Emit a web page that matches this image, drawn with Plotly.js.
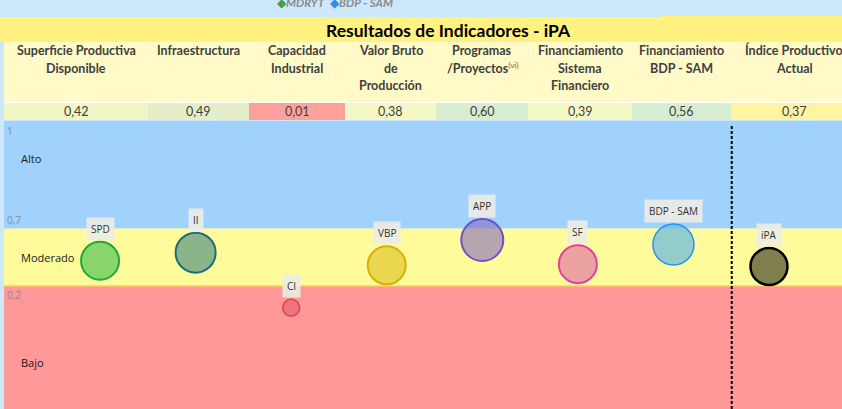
<!DOCTYPE html>
<html>
<head>
<meta charset="utf-8">
<script src="https://cdn.plot.ly/plotly-3.0.1.min.js"></script>
<style>
	html, body { margin: 0; padding: 0; background: #cde7fb; }
	#chart { width: 842px; height: 409px; }
</style>
</head>
<body>
<div id="chart"></div>
<script>
// indicator data read from the sheet
const indicadores = [
	["Superficie Productiva", "Disponible"],
	["Infraestructura"],
	["Capacidad", "Industrial"],
	["Valor Bruto", "de", "Producción"],
	["Programas", "/Proyectos<sup><span style='font-size:8px;font-weight:normal;fill:#666'>(vi)</span></sup>"],
	["Financiamiento", "Sistema", "Financiero"],
	["Financiamiento", "BDP - SAM"],
	["Índice Productivo", "Actual"],
];
const siglas = ["SPD", "II", "CI", "VBP", "APP", "SF", "BDP - SAM", "iPA"];
const valores = [0.42, 0.49, 0.01, 0.38, 0.60, 0.39, 0.56, 0.37];
const posicion = [1, 2, 3, 4, 5, 6, 7, 8];
const niveles = ["Alto", "Moderado", "Bajo"];
const limites = [0.7, 0.2];
const limiteTexto = ["1", "0,7", "0,2"];
const leyenda = ["MDRYT", "BDP - SAM"];

// styles
const W = 842, H = 409;
const px = (x) => x / W;
const py = (y) => 1 - y / H;
const cellEdges = [4, 148, 249, 345, 436, 528, 632, 731, 857];
const cellColors = ["#eff6c1", "#e4efc9", "#ffa19b", "#f3f8c4", "#d8ecd1", "#f3f8c4", "#d8ecd1", "#fff4a1"];
const fillColors = ["#88d56c", "#8cb48a", "#ef737a", "#ebd650", "rgba(132,108,190,0.6)", "#eda2a2", "rgba(110,190,220,0.75)", "#80804e"];
const lineColors = ["#1ea83b", "#1d6e78", "#d9424f", "#d9b000", "#7050c8", "#e040a2", "#2092f2", "#000000"];
const lineWidths = [2, 2, 1.5, 2, 2, 2, 1.5, 2.5];
const bubbleSize = [38, 40, 17, 38, 42, 38, 41, 37];
const yRange = [-0.87, 1.635];

const fmt = (v) => v.toFixed(2).replace(".", ",");

const shapes = [];
const annotations = [];

// text helper in pixel coords
const txt = (x, y, text, font, extra) => annotations.push(Object.assign({
	xref: "paper", yref: "paper", x: px(x), y: py(y), text, showarrow: false,
	xanchor: "center", yanchor: "middle", font,
}, extra || {}));

const rect = (x0, y0, x1, y1, color) => shapes.push({
	type: "rect", xref: "paper", yref: "paper", x0: px(x0), x1: Math.min(1, px(x1)), y0: py(y1), y1: py(y0),
	fillcolor: color, line: { width: 0 }, layer: "below",
});

// title band and header rows
rect(0, 17, W, 42, "#fff281");
rect(662, 16, W, 17, "#fff281");
rect(4, 42, W, 102, "#fffac7");
rect(4, 102, W, 103, "#ffffff");
cellColors.forEach((c, i) => rect(cellEdges[i], 103, cellEdges[i + 1], 120, c));

// level bands
const bandColors = ["#a1d1fd", "#fffb9b", "#ff9898"];
const bandEdges = [yRange[1], limites[0], limites[1], yRange[0]];
bandColors.forEach((c, i) => {
	shapes.push({ type: "rect", xref: "paper", yref: "y", x0: px(4), x1: 1, y0: bandEdges[i + 1], y1: bandEdges[i], fillcolor: c, line: { width: 0 }, layer: "below" });
});
shapes.push({ type: "line", xref: "paper", yref: "y", x0: px(4), x1: 1, y0: limites[1], y1: limites[1], line: { color: "#ffc76a", width: 1.5 }, layer: "below" });

// dashed divider before the index
shapes.push({ type: "line", xref: "x", yref: "paper", x0: 7.61, x1: 7.61, y0: 0, y1: py(125), line: { color: "#000000", width: 2, dash: "3px,2px" } });

// title
txt(448, 30, "<b>Resultados de Indicadores - iPA</b>", { family: "Lato", size: 17.5, color: "#000000" });

// legend stub at top (cut by the top edge, as in the sheet)
txt(275, 2, "<span style='fill:#3fa34d'>◆</span><b><i>" + leyenda[0] + "</i></b>  <span style='fill:#2f8ff0'>◆</span><b><i>" + leyenda[1] + "</i></b>",
	{ family: "Lato", size: 11.5, color: "#8c8c8c" }, { xanchor: "left" });

// column headers and values
indicadores.forEach((lines, i) => {
	const cx = (cellEdges[i] + cellEdges[i + 1]) / 2;
	lines.forEach((t, k) => {
		txt(cx, 50 + 18 * k, t, { family: "Lato", size: 12.5, color: "#404040", weight: "bold" });
	});
	txt(cx, 112, fmt(valores[i]), { family: "Lato", size: 12.5, color: "#404040" });
});

// level labels
const nivelY = [159, 257, 362];
niveles.forEach((n, i) => {
	txt(19, nivelY[i], n, { family: "Open Sans", size: 11, color: "#1a1a1a" }, { xanchor: "left" });
});
const limiteY = [131, 220, 295];
limiteTexto.forEach((t, i) => {
	txt(5, limiteY[i], t, { family: "Open Sans", size: 10, color: "#8a8a8a" }, { xanchor: "left" });
});

// bubble labels
siglas.forEach((s, i) => {
	annotations.push({ xref: "x", yref: "y", x: posicion[i], y: valores[i], yshift: bubbleSize[i] / 2 + 13, text: s, showarrow: false, bgcolor: "rgba(236,236,230,0.9)", borderpad: 4, font: { family: "Open Sans", size: 10, color: "#333333" } });
});

const data = [{
	type: "scatter",
	mode: "markers",
	x: posicion,
	y: valores,
	marker: {
		size: bubbleSize,
		color: fillColors,
		opacity: 1,
		line: { color: lineColors, width: lineWidths },
	},
	hoverinfo: "skip",
}];

const layout = {
	width: W,
	height: H,
	margin: { l: 0, r: 0, t: 0, b: 0 },
	paper_bgcolor: "#cde7fb",
	plot_bgcolor: "rgba(0,0,0,0)",
	showlegend: false,
	xaxis: { domain: [px(4), 1], range: [-0.005, 8.764], visible: false, fixedrange: true },
	yaxis: { domain: [0, py(121)], range: yRange, visible: false, fixedrange: true },
	shapes,
	annotations,
};

Plotly.newPlot("chart", data, layout, { staticPlot: true });
</script>
</body>
</html>
